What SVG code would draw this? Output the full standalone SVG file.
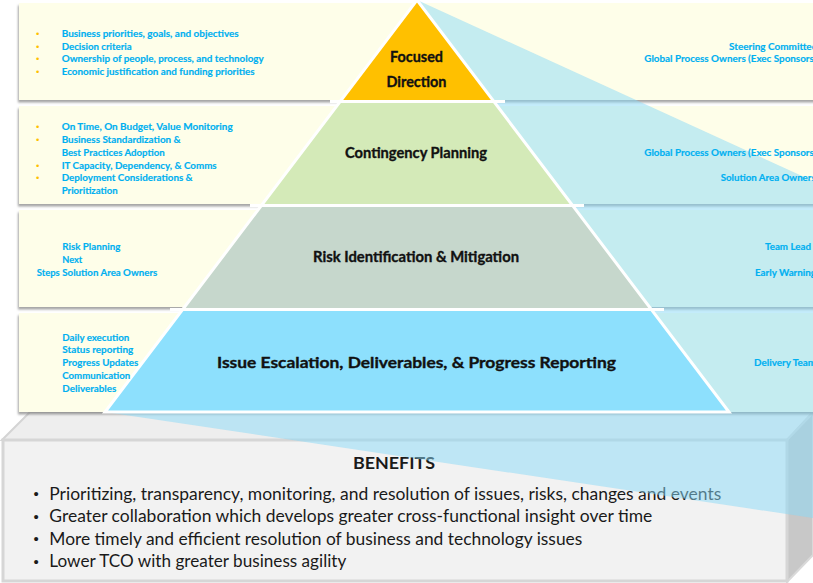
<svg xmlns="http://www.w3.org/2000/svg" width="813" height="583" viewBox="0 0 813 583">
<defs>
<filter id="sh" x="-5%" y="-20%" width="110%" height="150%">
<feDropShadow dx="-1" dy="2.5" stdDeviation="1.3" flood-color="#7f7f7f" flood-opacity="0.7"/>
</filter>
<style>
.box{fill:#FEFEE9;filter:url(#sh)}
.st{font-family:Lato,"Liberation Sans",sans-serif;font-weight:bold;font-size:9px;fill:#00B0F0;stroke:#00B0F0;stroke-width:0.15}
.bu{font-family:"Liberation Sans",sans-serif;font-size:9.5px;fill:#FFC000}
.pl{font-family:Lato,"Liberation Sans",sans-serif;font-weight:bold;font-size:15px;fill:#111;stroke:#111;stroke-width:0.35}
.bt{font-family:Lato,"Liberation Sans",sans-serif;font-size:17px;fill:#1a1a1a}
.bb{font-family:"Liberation Sans",sans-serif;font-size:15px;fill:#1a1a1a}
.sep{stroke:#fff;stroke-width:3;fill:none}
</style>
</defs>
<rect width="813" height="583" fill="#fff"/>

<g id="base">
<polygon points="2,440 30,412 813,412 787,440" fill="#EEEEEE" stroke="#D4D4D4" stroke-width="2"/>
<polygon points="787,440 813,413 813,555 787,582" fill="#C8C8C8" stroke="#D9D9D9" stroke-width="2"/>
<rect x="3" y="440" width="784" height="141" fill="#F2F2F2" stroke="#D6D6D6" stroke-width="3"/>
<text x="394" y="469" text-anchor="middle" class="bt" font-weight="bold" textLength="82" lengthAdjust="spacingAndGlyphs">BENEFITS</text>
<text x="33.5" y="499" class="bb">•</text>
<text x="49.3" y="499.5" class="bt" textLength="672" lengthAdjust="spacingAndGlyphs">Prioritizing, transparency, monitoring, and resolution of issues, risks, changes and events</text>
<text x="33.5" y="521.5" class="bb">•</text>
<text x="49.3" y="522" class="bt" textLength="603" lengthAdjust="spacingAndGlyphs">Greater collaboration which develops greater cross-functional insight over time</text>
<text x="33.5" y="544" class="bb">•</text>
<text x="49.3" y="544.5" class="bt" textLength="533" lengthAdjust="spacingAndGlyphs">More timely and efficient resolution of business and technology issues</text>
<text x="33.5" y="566.5" class="bb">•</text>
<text x="49.3" y="567" class="bt" textLength="297" lengthAdjust="spacingAndGlyphs">Lower TCO with greater business agility</text>
</g>

<g id="boxes">
<rect class="box" x="19" y="3" width="820" height="97"/>
<rect class="box" x="19" y="106" width="820" height="98"/>
<rect class="box" x="19" y="210" width="820" height="97"/>
<rect class="box" x="19" y="313" width="820" height="99"/>
</g>

<polygon id="projection" points="417,0 813,181 813,518 105,412" fill="rgb(138,218,248)" fill-opacity="0.5"/>

<g id="tier-focused-direction">
<polygon points="417,0 493.9,101.5 340.1,101.5" fill="#FFC000"/>
<text x="416.5" y="62" text-anchor="middle" class="pl" textLength="53" lengthAdjust="spacingAndGlyphs">Focused</text>
<text x="416.5" y="87" text-anchor="middle" class="pl" textLength="60" lengthAdjust="spacingAndGlyphs">Direction</text>
</g>
<g id="tier-contingency-planning">
<polygon points="340.1,101.5 493.9,101.5 572.6,205.5 261.4,205.5" fill="#D4EAB8"/>
<text x="416" y="158" text-anchor="middle" class="pl" textLength="142" lengthAdjust="spacingAndGlyphs">Contingency Planning</text>
</g>
<g id="tier-risk">
<polygon points="261.4,205.5 572.6,205.5 651.4,309.5 182.6,309.5" fill="#C6D7CC"/>
<text x="416" y="262" text-anchor="middle" class="pl" textLength="206" lengthAdjust="spacingAndGlyphs">Risk Identification &amp; Mitigation</text>
</g>
<g id="tier-issue">
<polygon points="182.6,309.5 651.4,309.5 729,412 105,412" fill="#8DE0FD"/>
<text x="416.5" y="368" text-anchor="middle" class="pl" font-size="17" textLength="399" lengthAdjust="spacingAndGlyphs">Issue Escalation, Deliverables, &amp; Progress Reporting</text>
</g>
<g id="pyramid-lines">
<polygon class="sep" points="417,0 729,412 105,412"/>
<line class="sep" x1="330" y1="101.5" x2="505" y2="101.5"/>
<line class="sep" x1="250" y1="205.5" x2="584" y2="205.5"/>
<line class="sep" x1="170" y1="309.5" x2="664" y2="309.5"/>
</g>

<g id="left-1">
<text class="bu" x="36" y="36.5">•</text><text class="st" x="61.7" y="36.5" textLength="177" lengthAdjust="spacingAndGlyphs">Business priorities, goals, and objectives</text>
<text class="bu" x="36" y="49.5">•</text><text class="st" x="61.7" y="49.5" textLength="70" lengthAdjust="spacingAndGlyphs">Decision criteria</text>
<text class="bu" x="36" y="62">•</text><text class="st" x="61.7" y="62" textLength="202" lengthAdjust="spacingAndGlyphs">Ownership of people, process, and technology</text>
<text class="bu" x="36" y="74.5">•</text><text class="st" x="61.7" y="74.5" textLength="193" lengthAdjust="spacingAndGlyphs">Economic justification and funding priorities</text>
</g>
<g id="left-2">
<text class="bu" x="36" y="130">•</text><text class="st" x="61.7" y="130" textLength="171" lengthAdjust="spacingAndGlyphs">On Time, On Budget, Value Monitoring</text>
<text class="bu" x="36" y="143">•</text><text class="st" x="61.7" y="143" textLength="119" lengthAdjust="spacingAndGlyphs">Business Standardization &amp;</text>
<text class="st" x="61.7" y="156" textLength="103" lengthAdjust="spacingAndGlyphs">Best Practices Adoption</text>
<text class="bu" x="36" y="169">•</text><text class="st" x="61.7" y="169" textLength="155" lengthAdjust="spacingAndGlyphs">IT Capacity, Dependency, &amp; Comms</text>
<text class="bu" x="36" y="181">•</text><text class="st" x="61.7" y="181" textLength="131" lengthAdjust="spacingAndGlyphs">Deployment Considerations &amp;</text>
<text class="st" x="61.7" y="194" textLength="56" lengthAdjust="spacingAndGlyphs">Prioritization</text>
</g>
<g id="left-3">
<text class="st" x="62.3" y="250" textLength="58" lengthAdjust="spacingAndGlyphs">Risk Planning</text>
<text class="st" x="62.3" y="263" textLength="20" lengthAdjust="spacingAndGlyphs">Next</text>
<text class="st" x="36.7" y="276" textLength="23" lengthAdjust="spacingAndGlyphs">Steps</text>
<text class="st" x="62.3" y="276" textLength="95" lengthAdjust="spacingAndGlyphs">Solution Area Owners</text>
</g>
<g id="left-4">
<text class="st" x="62.3" y="341" textLength="67" lengthAdjust="spacingAndGlyphs">Daily execution</text>
<text class="st" x="62.3" y="353" textLength="71" lengthAdjust="spacingAndGlyphs">Status reporting</text>
<text class="st" x="62.3" y="366" textLength="76" lengthAdjust="spacingAndGlyphs">Progress Updates</text>
<text class="st" x="62.3" y="379" textLength="68" lengthAdjust="spacingAndGlyphs">Communication</text>
<text class="st" x="62.3" y="392" textLength="54" lengthAdjust="spacingAndGlyphs">Deliverables</text>
</g>

<g id="right-1">
<text class="st" x="729" y="50" textLength="88" lengthAdjust="spacingAndGlyphs">Steering Committee</text>
<text class="st" x="644.3" y="62" textLength="172" lengthAdjust="spacingAndGlyphs">Global Process Owners (Exec Sponsors)</text>
</g>
<g id="right-2">
<text class="st" x="644.3" y="156" textLength="172" lengthAdjust="spacingAndGlyphs">Global Process Owners (Exec Sponsors)</text>
<text class="st" x="720.7" y="181" textLength="95" lengthAdjust="spacingAndGlyphs">Solution Area Owners</text>
</g>
<g id="right-3">
<text class="st" x="765" y="250" textLength="46" lengthAdjust="spacingAndGlyphs">Team Lead</text>
<text class="st" x="755" y="276" textLength="61" lengthAdjust="spacingAndGlyphs">Early Warning</text>
</g>
<g id="right-4">
<text class="st" x="754" y="366" textLength="62" lengthAdjust="spacingAndGlyphs">Delivery Team</text>
</g>
</svg>
